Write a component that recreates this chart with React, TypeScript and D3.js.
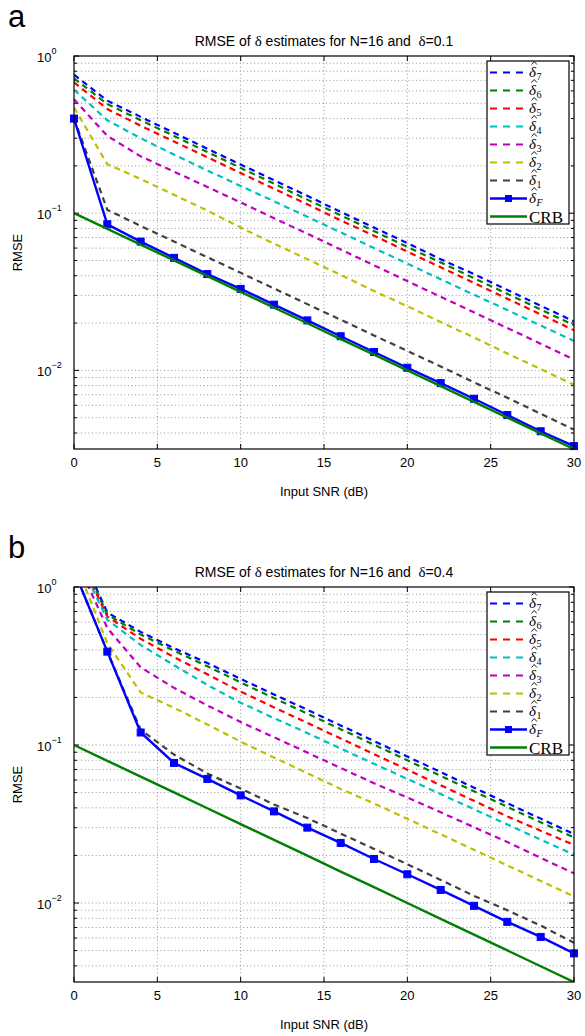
import React from 'react';
import * as d3 from 'd3';

const SNR = [0, 2, 4, 6, 8, 10, 12, 14, 16, 18, 20, 22, 24, 26, 28, 30];
const CRB = [0.1, 0.0794, 0.0631, 0.0501, 0.0398, 0.0316, 0.0251, 0.01995, 0.0158, 0.0126, 0.01, 0.00794, 0.00631, 0.00501, 0.00398, 0.00316];

const A_D7 = [0.76, 0.52, 0.41, 0.325, 0.257, 0.204, 0.162, 0.129, 0.102, 0.081, 0.0645, 0.051, 0.041, 0.0325, 0.0258, 0.0205];
const A_D6 = [0.72, 0.495, 0.39, 0.31, 0.245, 0.194, 0.154, 0.122, 0.097, 0.077, 0.061, 0.0486, 0.0386, 0.0307, 0.0244, 0.0194];
const A_D5 = [0.68, 0.46, 0.36, 0.286, 0.227, 0.18, 0.143, 0.114, 0.09, 0.072, 0.057, 0.0453, 0.036, 0.0286, 0.0227, 0.018];
const A_D4 = [0.61, 0.39, 0.3, 0.236, 0.187, 0.149, 0.119, 0.095, 0.0755, 0.06, 0.0478, 0.038, 0.0303, 0.0242, 0.0193, 0.0154];
const A_D3 = [0.53, 0.31, 0.23, 0.184, 0.147, 0.117, 0.093, 0.074, 0.0587, 0.0466, 0.037, 0.0294, 0.0234, 0.0186, 0.0148, 0.0117];
const A_D2 = [0.47, 0.205, 0.165, 0.131, 0.104, 0.081, 0.064, 0.051, 0.0405, 0.032, 0.0256, 0.0203, 0.0162, 0.0128, 0.0102, 0.0081];
const A_D1 = [0.4, 0.105, 0.083, 0.066, 0.0525, 0.0418, 0.0332, 0.0264, 0.021, 0.0167, 0.0133, 0.0106, 0.0084, 0.0067, 0.0053, 0.0042];
const A_DF = [0.4, 0.085, 0.066, 0.052, 0.041, 0.033, 0.0262, 0.0208, 0.0165, 0.0131, 0.0104, 0.0083, 0.0066, 0.0052, 0.0041, 0.0033];

const B_D7 = [2.0, 0.69, 0.52, 0.41, 0.33, 0.262, 0.209, 0.167, 0.133, 0.106, 0.0845, 0.0674, 0.0537, 0.0428, 0.0342, 0.0273];
const B_D6 = [1.9, 0.67, 0.5, 0.395, 0.315, 0.249, 0.198, 0.158, 0.126, 0.1005, 0.08, 0.0638, 0.0509, 0.0406, 0.0324, 0.026];
const B_D5 = [1.8, 0.65, 0.47, 0.36, 0.28, 0.218, 0.173, 0.138, 0.11, 0.0876, 0.0698, 0.0556, 0.0443, 0.0353, 0.0287, 0.0233];
const B_D4 = [1.7, 0.62, 0.43, 0.32, 0.24, 0.185, 0.148, 0.119, 0.095, 0.076, 0.061, 0.0489, 0.0392, 0.0314, 0.0252, 0.0202];
const B_D3 = [1.6, 0.55, 0.31, 0.23, 0.178, 0.14, 0.112, 0.0895, 0.0716, 0.0573, 0.0465, 0.0375, 0.0302, 0.0243, 0.0193, 0.0154];
const B_D2 = [1.5, 0.44, 0.215, 0.172, 0.135, 0.105, 0.0834, 0.0663, 0.0527, 0.0427, 0.0341, 0.0272, 0.0217, 0.0173, 0.0138, 0.011];
const B_D1 = [1.27, 0.39, 0.125, 0.087, 0.066, 0.053, 0.042, 0.0345, 0.0275, 0.022, 0.0176, 0.014, 0.0111, 0.009, 0.0072, 0.0056];
const B_DF = [1.27, 0.39, 0.12, 0.077, 0.061, 0.048, 0.038, 0.03, 0.024, 0.019, 0.0152, 0.0121, 0.0096, 0.0076, 0.0061, 0.0048];

const X_TICKS = [0, 5, 10, 15, 20, 25, 30];
const Y_DECADES = [0, -1, -2];
const LEGEND_SUBS = ['7', '6', '5', '4', '3', '2', '1', 'F', 'CRB'];
const DASH_COLORS = ['#0000ff', '#008000', '#ff0000', '#00bfbf', '#bf00bf', '#bfbf00', '#404040'];
const F_COLOR = '#0000ff';
const CRB_COLOR = '#008000';

const SANS = 'Liberation Sans, Arial, Helvetica, sans-serif';
const SERIF = 'Liberation Serif, DejaVu Serif, serif';

const LEFT = 74;
const RIGHT = 574;

type PanelProps = {
  id: string;
  top: number;
  bottom: number;
  letter: string;
  deltaVal: string;
  dashed: number[][];
  fSeries: number[];
};

function Panel({ id, top, bottom, letter, deltaVal, dashed, fSeries }: PanelProps) {
  const x = d3.scaleLinear().domain([0, 30]).range([LEFT, RIGHT]);
  const y = d3.scaleLog().domain([Math.pow(10, -2.5), 1]).range([bottom, top]);
  const line = d3
    .line<[number, number]>()
    .x((d) => x(d[0]))
    .y((d) => y(d[1]));
  const pts = (vals: number[]) => SNR.map((s, i) => [s, vals[i]] as [number, number]);

  const minorY: number[] = [];
  for (let e = -3; e <= 0; e++) {
    for (let m = 1; m <= 9; m++) {
      const v = m * Math.pow(10, e);
      if (v >= Math.pow(10, -2.5) - 1e-12 && v <= 1 + 1e-12) minorY.push(v);
    }
  }
  const clipId = 'clip-' + id;
  const midY = (top + bottom) / 2;
  const midX = (LEFT + RIGHT) / 2;

  const lgLeft = RIGHT - 87;
  const lgTop = top + 5;
  const lgW = 82;
  const lgH = 163;

  return (
    <g>
      <defs>
        <clipPath id={clipId}>
          <rect x={LEFT} y={top} width={RIGHT - LEFT} height={bottom - top} />
        </clipPath>
      </defs>
      <text x={8} y={top - 29} fontFamily={SANS} fontSize={31}>
        {letter}
      </text>
      <text x={midX} y={top - 10} fontFamily={SANS} fontSize={14} textAnchor="middle">
        RMSE of <tspan fontFamily={SERIF} fontSize={15}>δ</tspan> estimates for N=16 and{'\u00a0\u00a0'}
        <tspan fontFamily={SERIF} fontSize={15}>δ</tspan>={deltaVal}
      </text>
      {/* grid */}
      <g stroke="#7a7a7a" strokeWidth={0.8} strokeDasharray="1 2.6">
        {X_TICKS.slice(1, -1).map((t) => (
          <line key={'gx' + t} x1={x(t)} x2={x(t)} y1={top} y2={bottom} />
        ))}
        {minorY
          .filter((v) => y(v) > top + 0.5 && y(v) < bottom - 0.5)
          .map((v) => (
            <line key={'gy' + v} x1={LEFT} x2={RIGHT} y1={y(v)} y2={y(v)} />
          ))}
      </g>
      {/* ticks */}
      <g stroke="#000" strokeWidth={1}>
        {X_TICKS.map((t) => (
          <g key={'tx' + t}>
            <line x1={x(t)} x2={x(t)} y1={bottom} y2={bottom - 5} />
            <line x1={x(t)} x2={x(t)} y1={top} y2={top + 5} />
          </g>
        ))}
        {minorY.map((v) => {
          const major = Math.abs(Math.log10(v) - Math.round(Math.log10(v))) < 1e-9;
          const len = major ? 5 : 3;
          return (
            <g key={'ty' + v}>
              <line x1={LEFT} x2={LEFT + len} y1={y(v)} y2={y(v)} />
              <line x1={RIGHT} x2={RIGHT - len} y1={y(v)} y2={y(v)} />
            </g>
          );
        })}
      </g>
      {/* series */}
      <g clipPath={`url(#${clipId})`} fill="none">
        {dashed.map((vals, i) => (
          <path
            key={'d' + i}
            d={line(pts(vals)) || ''}
            stroke={DASH_COLORS[i]}
            strokeWidth={2.2}
            strokeDasharray="6 4.5"
          />
        ))}
        <path d={line(pts(fSeries)) || ''} stroke={F_COLOR} strokeWidth={2.4} />
      </g>
      <g fill={F_COLOR} stroke={F_COLOR} strokeWidth={1}>
        {SNR.map((s, i) =>
          fSeries[i] <= 1 ? (
            <rect key={'m' + s} x={x(s) - 3.5} y={y(fSeries[i]) - 3.5} width={7} height={7} />
          ) : null
        )}
      </g>
      <g clipPath={`url(#${clipId})`} fill="none">
        <path d={line(pts(CRB)) || ''} stroke={CRB_COLOR} strokeWidth={2.4} />
      </g>
      {/* frame */}
      <rect x={LEFT} y={top} width={RIGHT - LEFT} height={bottom - top} fill="none" stroke="#000" strokeWidth={1.2} />
      {/* tick labels */}
      {X_TICKS.map((t) => (
        <text key={'lx' + t} x={x(t)} y={bottom + 18} fontFamily={SANS} fontSize={13} textAnchor="middle">
          {t}
        </text>
      ))}
      {Y_DECADES.map((e) => (
        <text key={'ly' + e} x={37} y={y(Math.pow(10, e)) + 5.5} fontFamily={SANS} fontSize={13}>
          10
          <tspan dy={-8} fontSize={9}>
            {e === 0 ? '0' : '\u2212' + Math.abs(e)}
          </tspan>
        </text>
      ))}
      <text x={midX} y={bottom + 47} fontFamily={SANS} fontSize={13} textAnchor="middle">
        Input SNR (dB)
      </text>
      <text
        transform={`translate(${22},${midY}) rotate(-90)`}
        fontFamily={SANS}
        fontSize={13}
        textAnchor="middle"
      >
        RMSE
      </text>
      {/* legend */}
      <rect x={lgLeft} y={lgTop} width={lgW} height={lgH} fill="#fff" stroke="#000" strokeWidth={1.2} />
      {LEGEND_SUBS.map((sub, i) => {
        const ly = lgTop + 11.5 + i * 18;
        const x1 = lgLeft + 3;
        const x2 = lgLeft + 40;
        const tx = lgLeft + 42;
        let sample;
        if (i < 7) {
          sample = <line x1={x1} x2={x2} y1={ly} y2={ly} stroke={DASH_COLORS[i]} strokeWidth={2.2} strokeDasharray="7 6" />;
        } else if (i === 7) {
          sample = (
            <g>
              <line x1={x1} x2={x2} y1={ly} y2={ly} stroke={F_COLOR} strokeWidth={2.4} />
              <rect x={(x1 + x2) / 2 - 3.5} y={ly - 3.5} width={7} height={7} fill={F_COLOR} />
            </g>
          );
        } else {
          sample = <line x1={x1} x2={x2} y1={ly} y2={ly} stroke={CRB_COLOR} strokeWidth={2.4} />;
        }
        return (
          <g key={'lg' + i}>
            {sample}
            {i < 8 ? (
              <g>
                <path
                  d={`M${tx + 2.5},${ly - 8} L${tx + 5.2},${ly - 11} L${tx + 7.9},${ly - 8}`}
                  fill="none"
                  stroke="#000"
                  strokeWidth={0.9}
                />
                <text x={tx} y={ly + 4} fontFamily={SERIF} fontSize={15} fontStyle="italic">
                  δ
                  <tspan dx={0.5} dy={3} fontSize={10} fontStyle={sub === 'F' ? 'italic' : 'normal'}>
                    {sub}
                  </tspan>
                </text>
              </g>
            ) : (
              <text x={tx} y={ly + 6} fontFamily={SERIF} fontSize={17}>
                CRB
              </text>
            )}
          </g>
        );
      })}
    </g>
  );
}

export default function App() {
  return (
    <svg
      width={585}
      height={1036}
      style={{ position: 'absolute', left: 0, top: 0, background: '#fff' }}
      xmlns="http://www.w3.org/2000/svg"
    >
      <rect x={0} y={0} width={585} height={1036} fill="#fff" />
      <Panel
        id="a"
        top={56}
        bottom={449}
        letter="a"
        deltaVal="0.1"
        dashed={[A_D7, A_D6, A_D5, A_D4, A_D3, A_D2, A_D1]}
        fSeries={A_DF}
      />
      <Panel
        id="b"
        top={587}
        bottom={982}
        letter="b"
        deltaVal="0.4"
        dashed={[B_D7, B_D6, B_D5, B_D4, B_D3, B_D2, B_D1]}
        fSeries={B_DF}
      />
    </svg>
  );
}
